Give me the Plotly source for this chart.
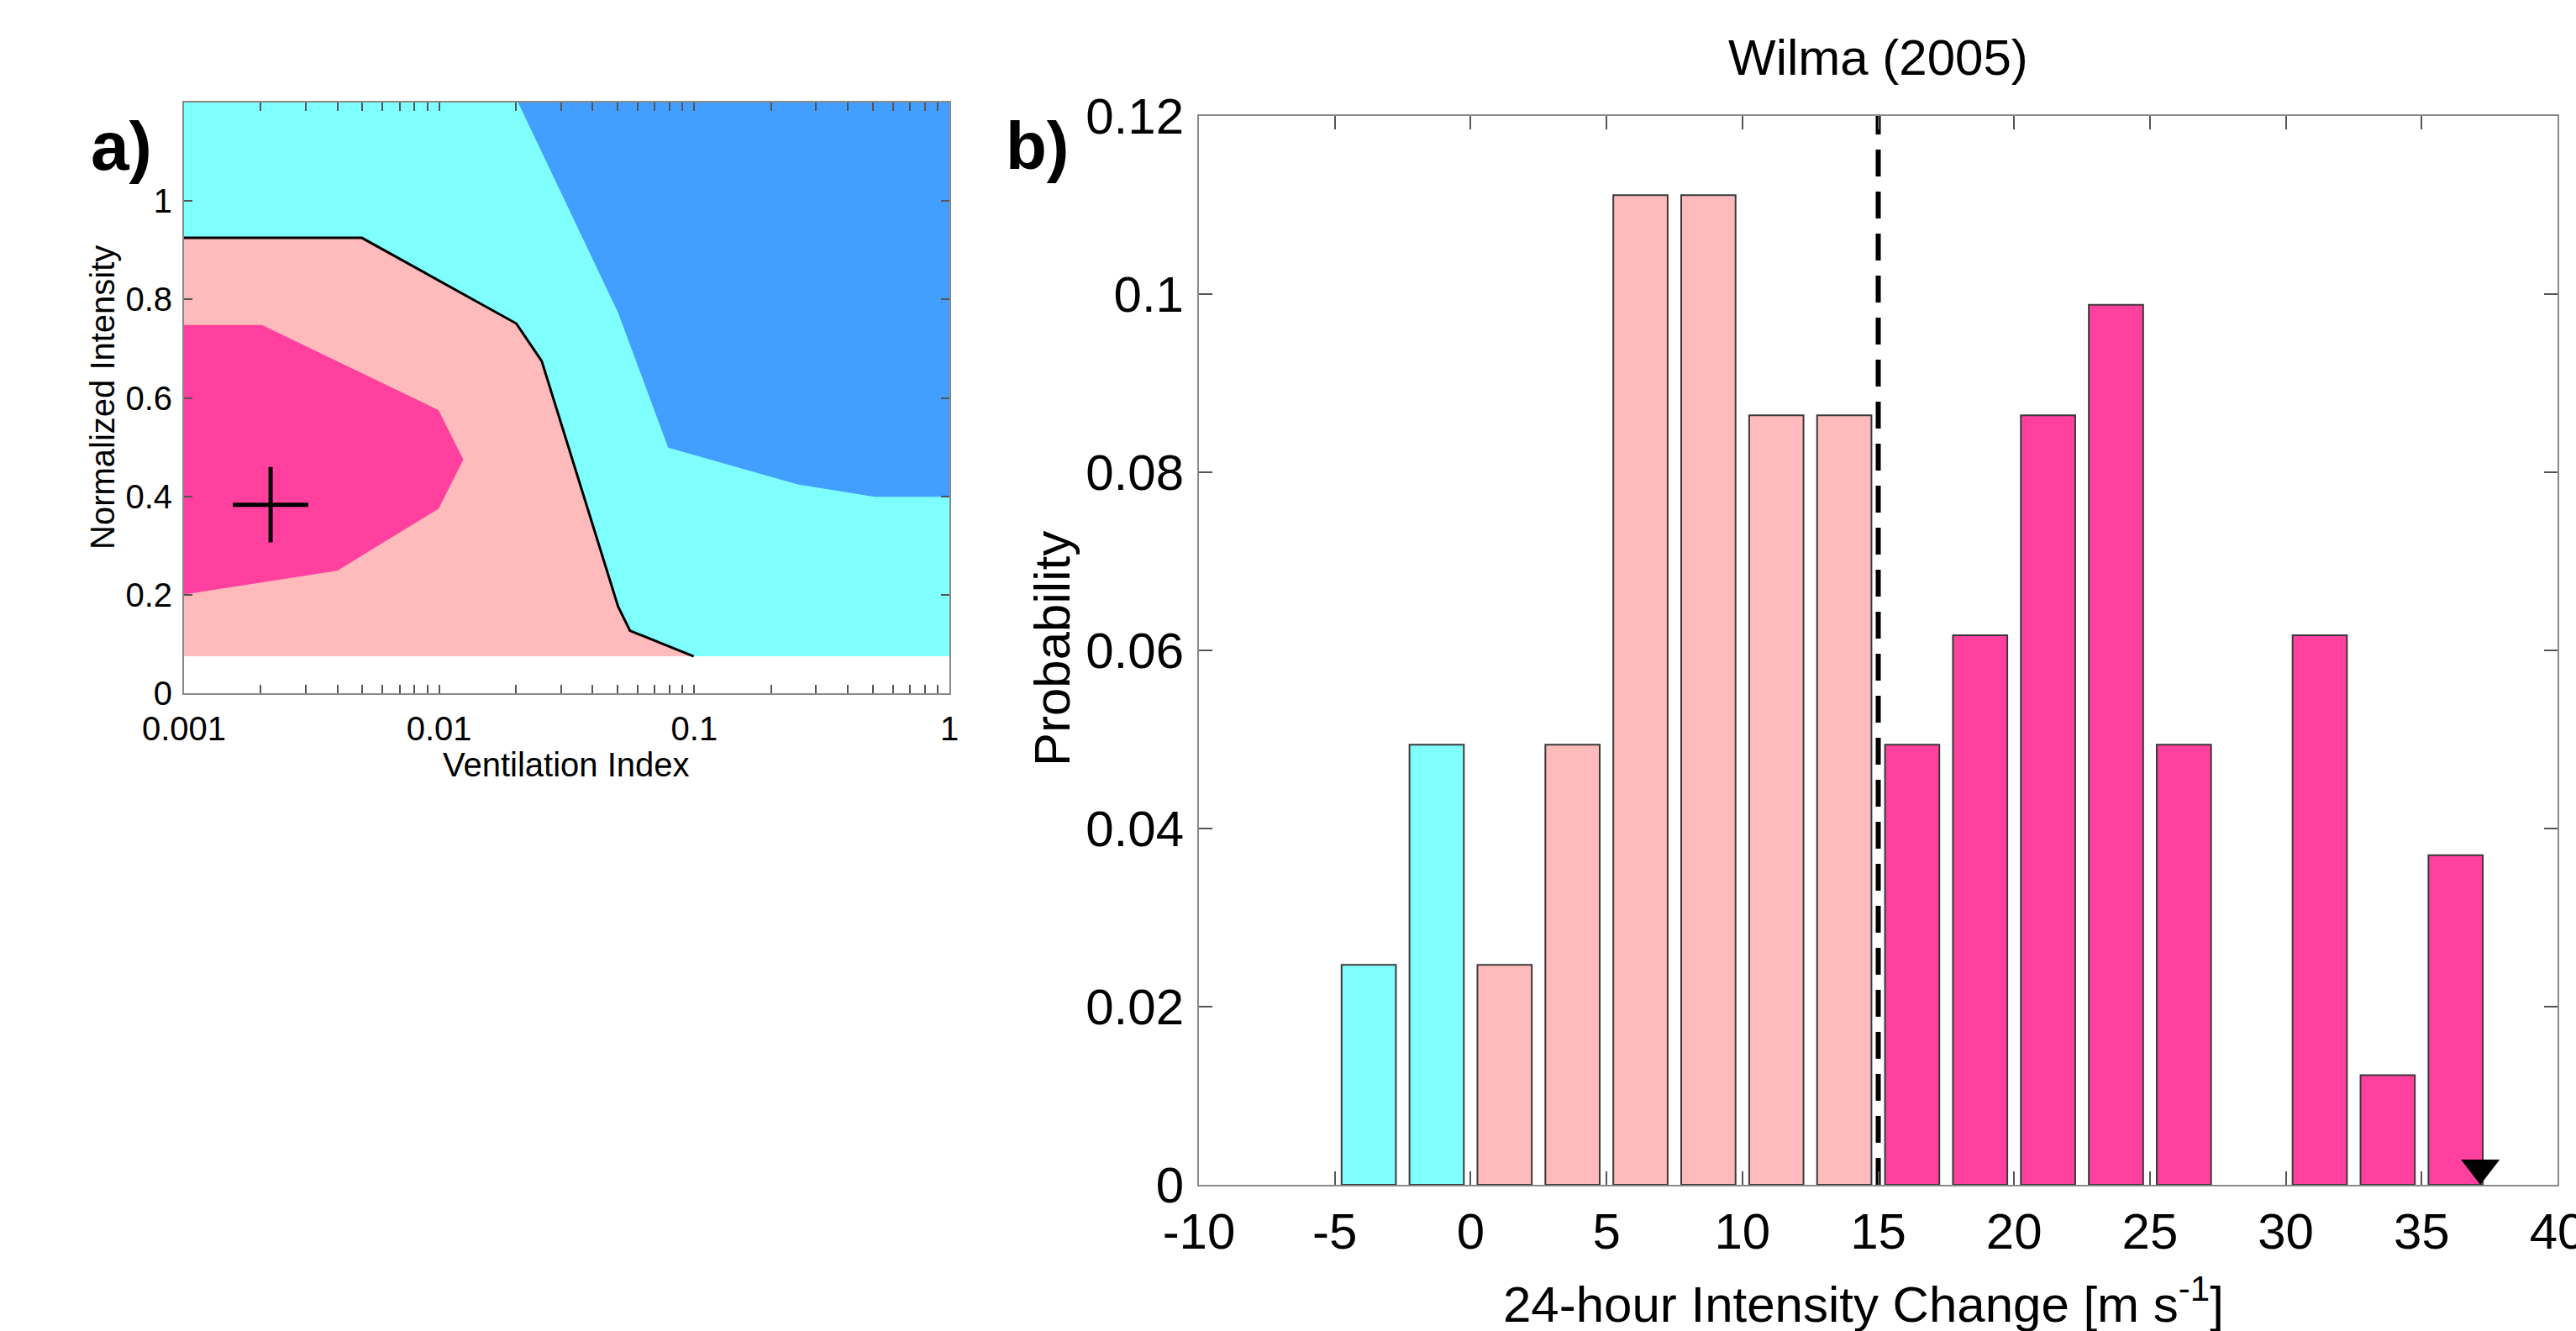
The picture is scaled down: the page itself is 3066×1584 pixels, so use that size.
import plotly.graph_objects as go

# ---------------- data ----------------
# Panel b: histogram of 24-hour intensity change (bin centres, probabilities)
bin_centers = [-3.75, -1.25, 1.25, 3.75, 6.25, 8.75, 11.25, 13.75, 16.25,
               18.75, 21.25, 23.75, 26.25, 28.75, 31.25, 33.75, 36.25]
probabilities = [0.0247, 0.0494, 0.0247, 0.0494, 0.1111, 0.1111, 0.0864, 0.0864,
                 0.0494, 0.0617, 0.0864, 0.0988, 0.0494, 0.0, 0.0617, 0.0123, 0.0370]
ri_threshold = 15.0
observed_change = 37.16
x_ticks_b = [-10, -5, 0, 5, 10, 15, 20, 25, 30, 35, 40]
x_ticktext_b = ["-10", "-5", "0", "5", "10", "15", "20", "25", "30", "35", "40"]
y_ticks_b = [0, 0.02, 0.04, 0.06, 0.08, 0.10, 0.12]
y_ticktext_b = ["0", "0.02", "0.04", "0.06", "0.08", "0.1", "0.12"]

# Panel a: filled probability contours (ventilation index, normalized intensity)
domain_x = [0.001, 1.0, 1.0, 0.001]
domain_y = [0.075, 0.075, 1.2, 1.2]
blue_x = [0.0204, 0.0503, 0.079, 0.2545, 0.509, 1.0, 1.0]
blue_y = [1.2, 0.773, 0.499, 0.424, 0.399, 0.399, 1.2]
pink_x = [0.001, 0.00498, 0.02007, 0.02523, 0.0503, 0.056, 0.0995, 0.001]
pink_y = [0.925, 0.925, 0.751, 0.675, 0.176, 0.127, 0.075, 0.075]
magenta_x = [0.001, 0.00202, 0.00995, 0.01244, 0.00995, 0.003985, 0.001]
magenta_y = [0.748, 0.748, 0.575, 0.4746, 0.3747, 0.249, 0.2007]
storm_vent = [0.002185]
storm_int = [0.383]
x_ticks_a = [m * 10.0 ** e for e in (-3, -2, -1) for m in range(1, 10)] + [1.0]
decade_labels = {0.001: "0.001", 0.01: "0.01", 0.1: "0.1", 1.0: "1"}
x_ticktext_a = [decade_labels.get(round(v, 6), "") for v in x_ticks_a]
y_ticks_a = [0, 0.2, 0.4, 0.6, 0.8, 1.0]
y_ticktext_a = ["0", "0.2", "0.4", "0.6", "0.8", "1"]

# ---------------- style ----------------
CYAN = "#80FFFF"
PINK = "#FFBBBB"
MAGENTA = "#FF409F"
BLUE = "#429FFF"
FONT = "Liberation Sans, Arial, Helvetica, sans-serif"
W, H = 3066, 1584

def px_x(p):
    return p / W

def px_y(p):
    return 1 - p / H

# plot-area pixel boxes
A_L, A_R, A_T, A_B = 219, 1130, 122, 825
B_L, B_R, B_T, B_B = 1427, 3044, 138, 1410

fig = go.Figure()

# ---- panel a ----
fig.add_trace(go.Scatter(x=domain_x, y=domain_y, fill="toself", fillcolor=CYAN,
                         mode="none", xaxis="x", yaxis="y", hoverinfo="skip"))
fig.add_trace(go.Scatter(x=blue_x, y=blue_y, fill="toself", fillcolor=BLUE,
                         mode="none", xaxis="x", yaxis="y", hoverinfo="skip"))
fig.add_trace(go.Scatter(x=pink_x, y=pink_y, fill="toself", fillcolor=PINK,
                         mode="none", xaxis="x", yaxis="y", hoverinfo="skip"))
fig.add_trace(go.Scatter(x=magenta_x, y=magenta_y, fill="toself", fillcolor=MAGENTA,
                         mode="none", xaxis="x", yaxis="y", hoverinfo="skip"))
fig.add_trace(go.Scatter(x=pink_x[:-1], y=pink_y[:-1], mode="lines",
                         line=dict(color="black", width=3), xaxis="x", yaxis="y"))
fig.add_trace(go.Scatter(x=storm_vent, y=storm_int, mode="markers",
                         marker=dict(symbol="cross-thin", size=64,
                                     line=dict(color="black", width=5)),
                         xaxis="x", yaxis="y"))

# ---- panel b ----
bx = [c for c, p in zip(bin_centers, probabilities) if p > 0]
by = [p for p in probabilities if p > 0]
bcol = [CYAN if c < 0 else (PINK if c < ri_threshold else MAGENTA) for c in bx]
fig.add_trace(go.Bar(x=bx, y=by, width=2.0, marker=dict(color=bcol,
                     line=dict(color="#3a3a3a", width=2)), xaxis="x2", yaxis="y2"))
fig.add_trace(go.Scatter(x=[ri_threshold, ri_threshold], y=[0, 0.12], mode="lines",
                         line=dict(color="black", width=6, dash="32px,18px"),
                         xaxis="x2", yaxis="y2"))
plot_h_b = B_B - B_T
tri_r = 20
fig.add_trace(go.Scatter(x=[observed_change], y=[0 + tri_r * 0.12 / plot_h_b],
                         mode="markers", cliponaxis=False,
                         marker=dict(symbol="triangle-down", size=2 * tri_r, color="black"),
                         xaxis="x2", yaxis="y2"))

axis_common = dict(showgrid=False, zeroline=False, showline=True, linecolor="#8a8a8a",
                   linewidth=2, ticks="inside", mirror="allticks", tickcolor="#555555",
                   tickwidth=2, automargin=False, ticklabeloverflow="allow")

fig.update_layout(
    width=W, height=H, margin=dict(l=0, r=0, t=0, b=0),
    paper_bgcolor="white", plot_bgcolor="white", showlegend=False,
    font=dict(family=FONT, color="black"),
    xaxis=dict(axis_common, type="log", range=[-3, 0], domain=[px_x(A_L), px_x(A_R)],
               tickvals=x_ticks_a, ticktext=x_ticktext_a, ticklen=10,
               tickfont=dict(size=40), anchor="y", ticklabelstandoff=6),
    yaxis=dict(axis_common, range=[0, 1.2], domain=[px_y(A_B), px_y(A_T)],
               tickvals=y_ticks_a, ticktext=y_ticktext_a, ticklen=10,
               tickfont=dict(size=40), anchor="x", ticklabelstandoff=4),
    xaxis2=dict(axis_common, range=[-10, 40], domain=[px_x(B_L), px_x(B_R)],
                tickvals=x_ticks_b, ticktext=x_ticktext_b, ticklen=16,
                tickfont=dict(size=60), anchor="y2", ticklabelstandoff=2),
    yaxis2=dict(axis_common, range=[0, 0.12], domain=[px_y(B_B), px_y(B_T)],
                tickvals=y_ticks_b, ticktext=y_ticktext_b, ticklen=16,
                tickfont=dict(size=60), anchor="x2", ticklabelstandoff=4),
)

ann = [
    dict(text="<b>a)</b>", x=px_x(144), y=px_y(173), font=dict(size=82)),
    dict(text="<b>b)</b>", x=px_x(1235), y=px_y(173), font=dict(size=80)),
    dict(text="Ventilation Index", x=px_x(674), y=px_y(910), font=dict(size=40)),
    dict(text="Normalized Intensity", x=px_x(122), y=px_y(473), font=dict(size=40), textangle=-90),
    dict(text="Wilma (2005)", x=px_x(2235), y=px_y(68), font=dict(size=60)),
    dict(text="Probability", x=px_x(1252), y=px_y(772), font=dict(size=60), textangle=-90),
    dict(text="24-hour Intensity Change [m s<sup>-1</sup>]", x=px_x(2218), y=px_y(1548),
         font=dict(size=60)),
]
for a in ann:
    fig.add_annotation(xref="paper", yref="paper", showarrow=False,
                       xanchor="center", yanchor="middle", **a)

fig.write_html("out.html", config={"displayModeBar": False},
               post_script="document.body.style.margin='0';document.body.style.overflow='hidden';")
